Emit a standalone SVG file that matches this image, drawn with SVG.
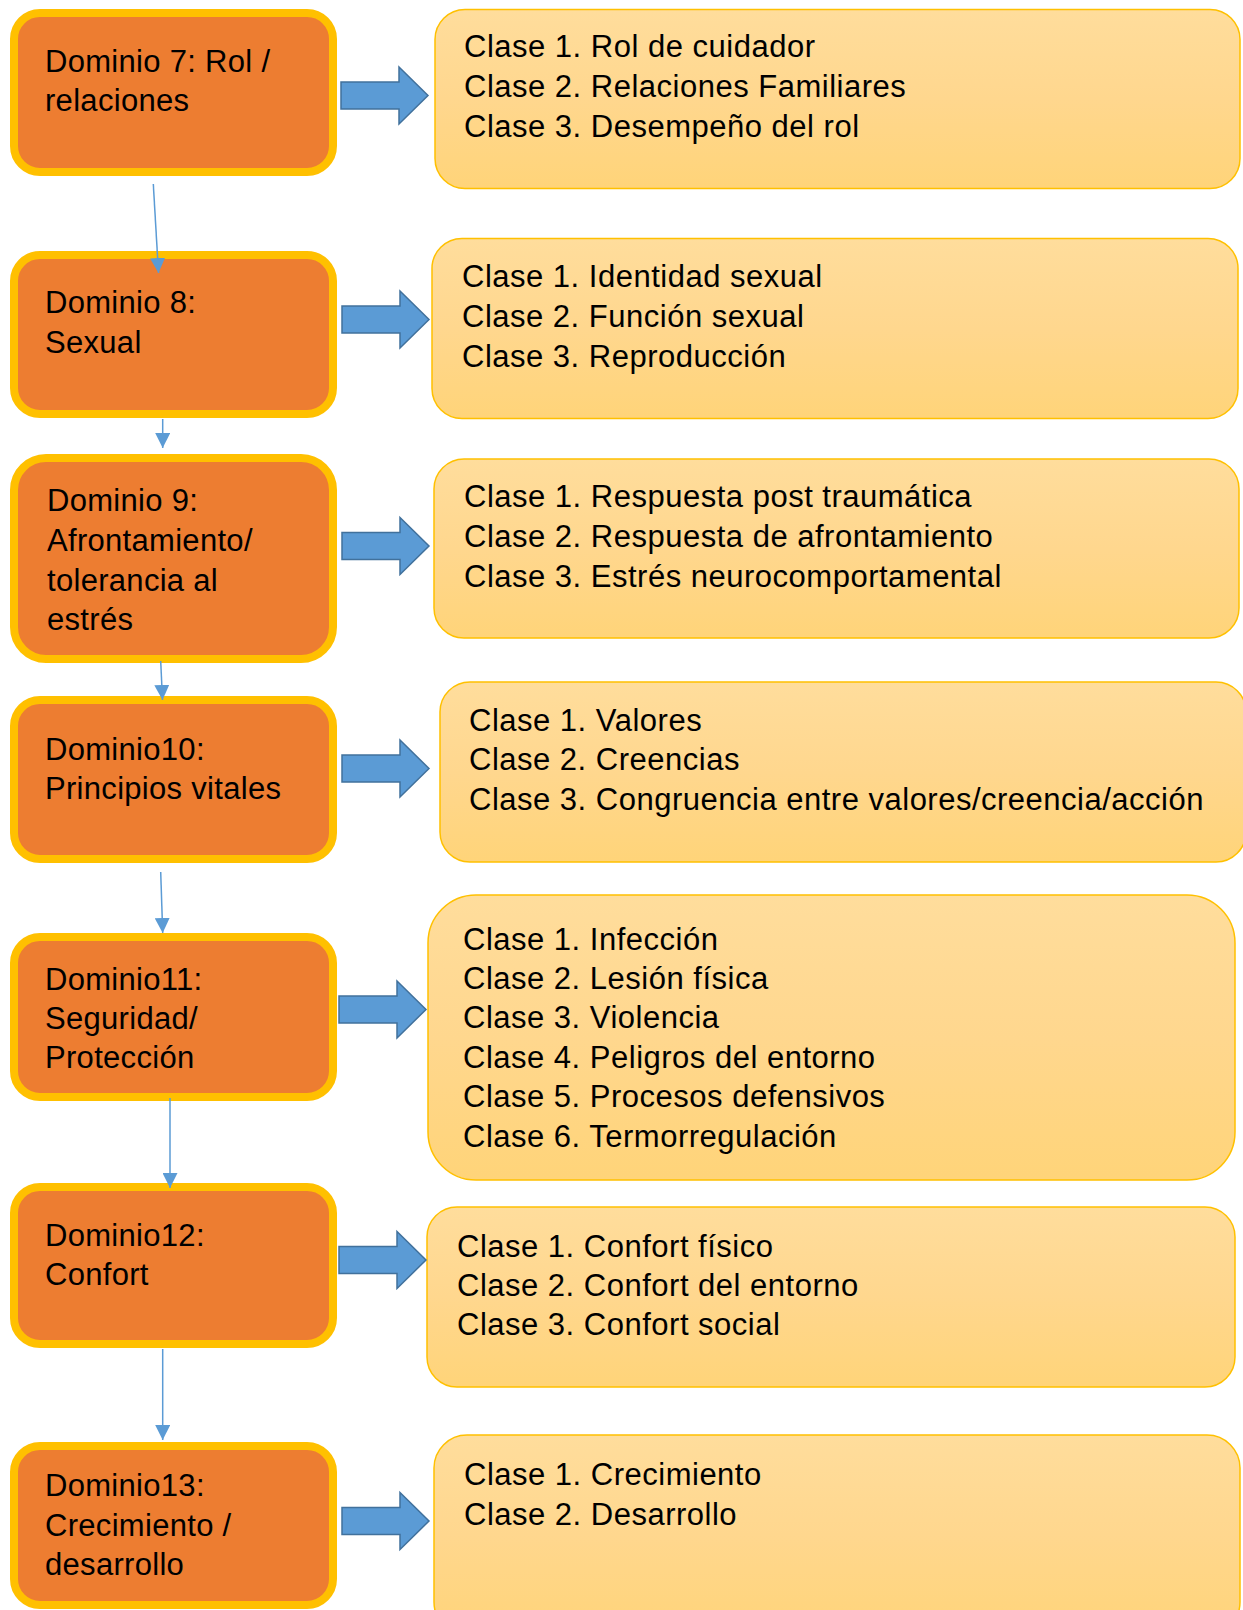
<svg xmlns="http://www.w3.org/2000/svg" width="1243" height="1610" viewBox="0 0 1243 1610">
<style>
.dom{fill:#ED7D31;stroke:#FFC000;stroke-width:8}
.cls{fill:url(#gold);stroke:#FFC000;stroke-width:1.5}
.dt{font-family:"Liberation Sans",Arial,sans-serif;font-size:31px;letter-spacing:0.3px;fill:#000}
.ct{font-family:"Liberation Sans",Arial,sans-serif;font-size:31px;letter-spacing:0.5px;fill:#000}
.blk{fill:#5B9BD5;stroke:#41719C;stroke-width:1.5}
.con{stroke:#5B9BD5;stroke-width:1.5;fill:none;marker-end:url(#ah)}
</style>
<defs>
<linearGradient id="gold" x1="0" y1="0" x2="0" y2="1">
<stop offset="0" stop-color="#FFDD9C"/>
<stop offset="0.5" stop-color="#FFD78E"/>
<stop offset="1" stop-color="#FFD479"/>
</linearGradient>
<marker id="ah" markerUnits="userSpaceOnUse" markerWidth="15" markerHeight="15" refX="15" refY="7.5" orient="auto">
<path d="M0,0 L15,7.5 L0,15 Z" fill="#5B9BD5"/>
</marker>
<path id="barrow" class="blk" d="M0,-13.5 H58 V-28.5 L87,0 L58,28.5 V13.5 H0 Z"/>
</defs>
<rect width="1243" height="1610" fill="#fff"/>

<g id="d7">
<rect class="dom" x="14" y="13" width="319" height="159" rx="26"/>
<text class="dt" x="45" y="72">Dominio 7: Rol /</text>
<text class="dt" x="45" y="111">relaciones</text>
</g>
<g id="d8">
<rect class="dom" x="14" y="255" width="319" height="159" rx="26"/>
<text class="dt" x="45" y="313">Dominio 8:</text>
<text class="dt" x="45" y="353">Sexual</text>
</g>
<g id="d9">
<rect class="dom" x="14" y="458" width="319" height="201" rx="32"/>
<text class="dt" x="47" y="511">Dominio 9:</text>
<text class="dt" x="47" y="551">Afrontamiento/</text>
<text class="dt" x="47" y="591">tolerancia al</text>
<text class="dt" x="47" y="630">estrés</text>
</g>
<g id="d10">
<rect class="dom" x="14" y="700" width="319" height="159" rx="26"/>
<text class="dt" x="45" y="760">Dominio10:</text>
<text class="dt" x="45" y="799">Principios vitales</text>
</g>
<g id="d11">
<rect class="dom" x="14" y="937" width="319" height="160" rx="26"/>
<text class="dt" x="45" y="990">Dominio11:</text>
<text class="dt" x="45" y="1029">Seguridad/</text>
<text class="dt" x="45" y="1068">Protección</text>
</g>
<g id="d12">
<rect class="dom" x="14" y="1187" width="319" height="157" rx="26"/>
<text class="dt" x="45" y="1246">Dominio12:</text>
<text class="dt" x="45" y="1285">Confort</text>
</g>
<g id="d13">
<rect class="dom" x="14" y="1446" width="319" height="159" rx="26"/>
<text class="dt" x="45" y="1496">Dominio13:</text>
<text class="dt" x="45" y="1536">Crecimiento /</text>
<text class="dt" x="45" y="1575">desarrollo</text>
</g>

<g id="r7">
<rect class="cls" x="435" y="9.5" width="805" height="179" rx="30"/>
<text class="ct" x="464" y="57">Clase 1. Rol de cuidador</text>
<text class="ct" x="464" y="97">Clase 2. Relaciones Familiares</text>
<text class="ct" x="464" y="137">Clase 3. Desempeño del rol</text>
</g>
<g id="r8">
<rect class="cls" x="432" y="238.5" width="806" height="180" rx="30"/>
<text class="ct" x="462" y="287">Clase 1. Identidad sexual</text>
<text class="ct" x="462" y="327">Clase 2. Función sexual</text>
<text class="ct" x="462" y="367">Clase 3. Reproducción</text>
</g>
<g id="r9">
<rect class="cls" x="434" y="459" width="805" height="179" rx="30"/>
<text class="ct" x="464" y="507">Clase 1. Respuesta post traumática</text>
<text class="ct" x="464" y="547">Clase 2. Respuesta de afrontamiento</text>
<text class="ct" x="464" y="587">Clase 3. Estrés neurocomportamental</text>
</g>
<g id="r10">
<rect class="cls" x="440" y="682" width="806" height="180" rx="30"/>
<text class="ct" x="469" y="731">Clase 1. Valores</text>
<text class="ct" x="469" y="770">Clase 2. Creencias</text>
<text class="ct" x="469" y="810">Clase 3. Congruencia entre valores/creencia/acción</text>
</g>
<g id="r11">
<rect class="cls" x="428" y="895" width="807" height="285" rx="48"/>
<text class="ct" x="463" y="950">Clase 1. Infección</text>
<text class="ct" x="463" y="989">Clase 2. Lesión física</text>
<text class="ct" x="463" y="1028">Clase 3. Violencia</text>
<text class="ct" x="463" y="1068">Clase 4. Peligros del entorno</text>
<text class="ct" x="463" y="1107">Clase 5. Procesos defensivos</text>
<text class="ct" x="463" y="1147">Clase 6. Termorregulación</text>
</g>
<g id="r12">
<rect class="cls" x="427" y="1207" width="808" height="180" rx="30"/>
<text class="ct" x="457" y="1257">Clase 1. Confort físico</text>
<text class="ct" x="457" y="1296">Clase 2. Confort del entorno</text>
<text class="ct" x="457" y="1335">Clase 3. Confort social</text>
</g>
<g id="r13">
<rect class="cls" x="434" y="1435" width="806" height="200" rx="33"/>
<text class="ct" x="464" y="1485">Clase 1. Crecimiento</text>
<text class="ct" x="464" y="1525">Clase 2. Desarrollo</text>
</g>

<g id="connectors">
<line class="con" x1="153.3" y1="184" x2="158.5" y2="273"/>
<line class="con" x1="162.7" y1="419" x2="162.7" y2="448"/>
<line class="con" x1="160.7" y1="661" x2="162.5" y2="700"/>
<line class="con" x1="160.7" y1="872" x2="162.7" y2="933"/>
<line class="con" x1="170" y1="1098" x2="170" y2="1188"/>
<line class="con" x1="162.7" y1="1349" x2="162.7" y2="1440"/>
<use href="#barrow" transform="translate(341,95.5)"/>
<use href="#barrow" transform="translate(342,319.5)"/>
<use href="#barrow" transform="translate(342,546)"/>
<use href="#barrow" transform="translate(342,768.5)"/>
<use href="#barrow" transform="translate(339,1009.5)"/>
<use href="#barrow" transform="translate(339,1260)"/>
<use href="#barrow" transform="translate(342,1521)"/>
</g>
</svg>
